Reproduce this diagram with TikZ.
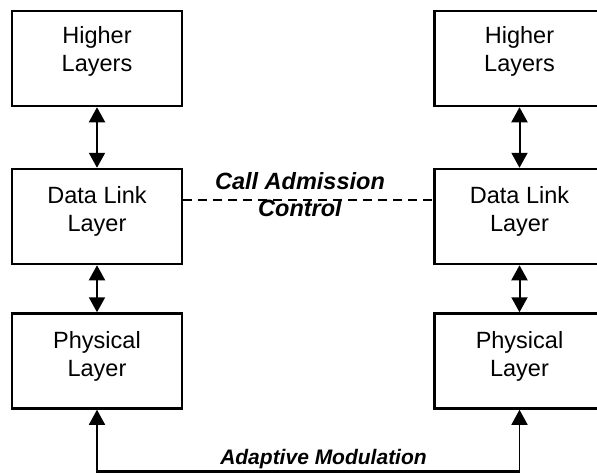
\documentclass[tikz,border=0pt]{standalone}
\usepackage{fontspec}
\setmainfont{Liberation Sans}
\usetikzlibrary{arrows.meta}
\begin{document}
\begin{tikzpicture}[x=1pt,y=-1pt,
  layerbox/.style={draw,line width=2.5pt,minimum width=170pt,minimum height=95pt,inner sep=0pt},
  boxtext/.style={align=center,inner sep=0pt,font=\fontsize{23.5}{28}\selectfont},
  ctrltext/.style={align=center,inner sep=0pt,font=\fontsize{23.5}{27}\selectfont\bfseries\itshape},
  modtext/.style={inner sep=0pt,font=\fontsize{21}{25}\selectfont\bfseries\itshape},
  biarrow/.style={line width=2pt,{Triangle[width=16pt,length=15pt]}-{Triangle[width=16pt,length=15pt]}},
  uparrow/.style={line width=1.5pt,-{Triangle[width=16pt,length=15pt]}},
  dashline/.style={line width=2pt,dash pattern=on 9pt off 6pt},
  baseline/.style={line width=2.5pt}]
\useasboundingbox (0,0) rectangle (597,475);
% left stack
\node[layerbox] (hl) at (97,58.5) {};
\node[layerbox] (dl) at (97,216.5) {};
\node[layerbox] (pl) at (97,361) {};
\node[boxtext] (hlt) at (97,51.5) {Higher\\Layers};
\node[boxtext] (dlt) at (97,211.5) {Data Link\\Layer};
\node[boxtext] (plt) at (97,356.5) {Physical\\Layer};
% right stack
\node[layerbox] (hr) at (519.5,58.5) {};
\node[layerbox] (dr) at (519.5,216.5) {};
\node[layerbox] (pr) at (519.5,361) {};
\node[boxtext] (hrt) at (519.5,51.5) {Higher\\Layers};
\node[boxtext] (drt) at (519.5,211.5) {Data Link\\Layer};
\node[boxtext] (prt) at (519.5,356.5) {Physical\\Layer};
% vertical arrows
\draw[biarrow] (hl.south) -- (dl.north);
\draw[biarrow] (dl.south) -- (pl.north);
\draw[biarrow] (hr.south) -- (dr.north);
\draw[biarrow] (dr.south) -- (pr.north);
% call admission control
\draw[dashline] ([yshift=16.5pt]dl.east) -- ([yshift=16.5pt]dr.west);
\node[ctrltext] (cac) at (300,195) {Call Admission\\Control};
% adaptive modulation
\coordinate (bl) at (97,471.5);
\coordinate (br) at (519.5,471.5);
\draw[uparrow] (bl) -- (pl.south);
\draw[uparrow] (br) -- (pr.south);
\draw[baseline] ([xshift=-0.75pt]bl) -- ([xshift=0.75pt]br);
\node[modtext,anchor=base] (am) at (323.5,464) {Adaptive Modulation};
\end{tikzpicture}
\end{document}
